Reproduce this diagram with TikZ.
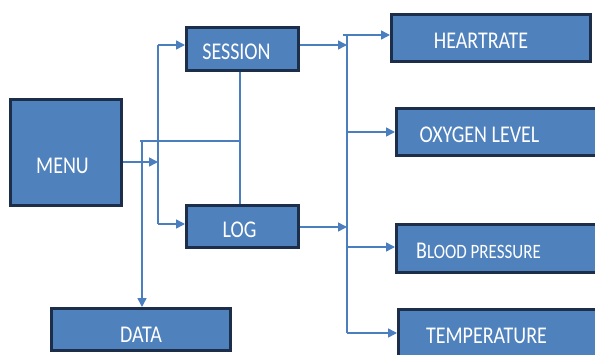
\documentclass[tikz,border=0pt]{standalone}
\usepackage{fontspec}
\setmainfont{Carlito}
\usetikzlibrary{arrows.meta}
\definecolor{boxfill}{HTML}{4F81BD}
\definecolor{boxline}{HTML}{1C2E4A}
\definecolor{wire}{HTML}{4A7EBF}
\newcommand{\tallt}[1]{\scalebox{1}[1.2]{#1}}
\tikzset{
  box/.style={draw=boxline, fill=boxfill, line width=3pt, inner sep=0pt, rectangle},
  lbl/.style={text=white, anchor=base, inner sep=0pt, font=\fontsize{20}{22}\selectfont},
  wireline/.style={draw=wire, line width=1.5pt},
  arr/.style={wireline, -{Triangle[length=9pt,width=9pt]}}
}
\begin{document}
\begin{tikzpicture}[x=1pt,y=-1pt]
\useasboundingbox (0,0) rectangle (595,354);
% boxes
\node[box, minimum width=111pt, minimum height=106pt] (menu) at (66,152.5) {};
\node[box, minimum width=112pt, minimum height=43pt] (session) at (242.5,49) {};
\node[box, minimum width=112pt, minimum height=42pt] (log) at (242.5,226.5) {};
\node[box, minimum width=179pt, minimum height=42pt] (data) at (141,329.5) {};
\node[box, minimum width=199pt, minimum height=47pt] (heart) at (491,38) {};
\node[box, minimum width=202pt, minimum height=47pt] (oxy) at (497.5,132) {};
\node[box, minimum width=202pt, minimum height=48pt] (blood) at (497.5,248.5) {};
\node[box, minimum width=200pt, minimum height=47pt] (temp) at (498.5,333) {};
% labels
\node[lbl] (menu-t) at (62.5,173) {\tallt{MENU}};
\node[lbl] (session-t) at (236.5,59) {\tallt{SESSION}};
\node[lbl] (log-t) at (239.5,237) {\tallt{LOG}};
\node[lbl] (data-t) at (141,342) {\tallt{DATA}};
\node[lbl] (heart-t) at (481,48) {\tallt{HEARTRATE}};
\node[lbl] (oxy-t) at (479.5,142) {\tallt{OXYGEN LEVEL}};
\node[lbl] (blood-t) at (478.5,258) {\tallt{B{\fontsize{17}{19}\selectfont LOOD PRESSURE}}};
\node[lbl] (temp-t) at (486.5,343) {\tallt{TEMPERATURE}};
% left-hand wiring
\coordinate (jm) at (158,162);
\coordinate (lt) at (158,45);
\coordinate (lb) at (158,224);
\coordinate (sl) at (240,0);
\coordinate (dl) at (140,141);
\coordinate (dd) at (142,141);
\draw[arr] (menu.east |- jm) -- (jm);
\draw[wireline] (lt) -- (lb);
\draw[arr] (lt) -- (session.west |- lt);
\draw[arr] (lb) -- (log.west |- lb);
\draw[wireline] (session.south -| sl) -- (log.north -| sl);
\draw[wireline] (dl) -- (dl -| sl);
\draw[arr] (dd) -- (data.north -| dd);
% right-hand bus
\coordinate (bt) at (347,35);
\coordinate (bb) at (347,333);
\coordinate (bts) at (343,35);
\coordinate (rs) at (347,45);
\coordinate (rl) at (347,227);
\draw[arr] (session.east |- rs) -- (rs);
\draw[arr] (log.east |- rl) -- (rl);
\draw[wireline] (bt) -- (bb);
\draw[arr] (bts) -- (heart.west |- bts);
\draw[arr] (oxy.west -| bt) -- (oxy.west);
\draw[arr] (bt |- 0,247) -- (blood.west |- 0,247);
\draw[arr] (bb) -- (temp.west |- bb);
\end{tikzpicture}
\end{document}
